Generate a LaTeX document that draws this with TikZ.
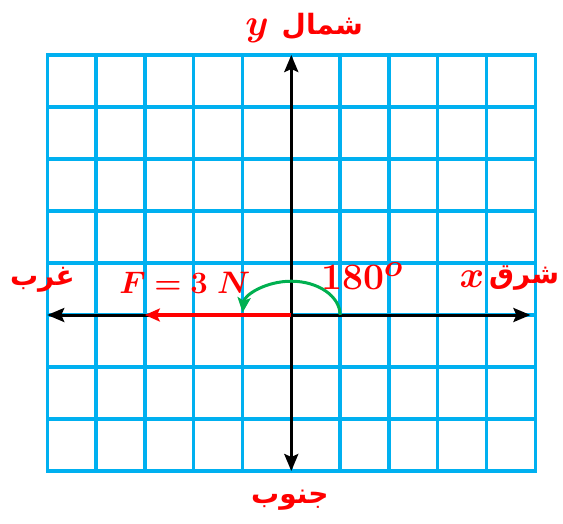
\documentclass[tikz,border=0pt]{standalone}
\usepackage{fontspec}
\usepackage{bm}
\usetikzlibrary{arrows.meta}
\newfontfamily\arabicfont[Script=Arabic]{DejaVu Sans}
\TeXXeTstate=1
\definecolor{gitterblau}{RGB}{0,176,240}
\definecolor{bogengruen}{RGB}{0,176,80}
\begin{document}
\begin{tikzpicture}[x=48.8pt,y=52pt,
  achse/.style={line width=3pt,{Stealth[length=17pt,width=14pt,inset=3pt]}-{Stealth[length=17pt,width=14pt,inset=3pt]}},
  beschr/.style={text=red,inner sep=0pt,font=\Huge,scale=1.25},
  grossbeschr/.style={beschr,scale=1.2},
  arab/.style={text=red,inner sep=0pt,font=\arabicfont\bfseries\fontsize{28}{32}\selectfont}]
\useasboundingbox (-0.969,-1) rectangle (10.568,9.058);
% Gitter 10 x 8
\foreach \i in {0,...,10}
  \draw[gitterblau,line width=3.4pt,line cap=rect] (\i,0) -- (\i,8);
\foreach \j in {0,...,8}
  \draw[gitterblau,line width=3.4pt,line cap=rect] (0,\j) -- (10,\j);
% Achsen
\coordinate (O) at (5,3);
\coordinate (W) at (0,3);
\coordinate (E) at (9.9,3);
\coordinate (N) at (5,8);
\coordinate (S) at (5,0);
\draw[achse] (W) -- (E);
\draw[achse] (S) -- (N);
% Kraft F = 3 N nach Westen
\coordinate (F) at (2,3);
\draw[red,line width=3.4pt,-{Stealth[length=15pt,width=13pt,inset=3pt]}] (O) -- (F);
% Winkel 180 Grad
\coordinate (A) at (6,3);
\draw[bogengruen,line width=3pt,-{Stealth[length=15pt,width=13pt,inset=3pt]}] (A) arc[start angle=0,end angle=176,x radius=1,y radius=0.65];
% Beschriftung
\node[grossbeschr] (ylab) at (4.3,8.47) {$\bm{y}$};
\node[arab,anchor=west] (nord) at (4.8,8.55) {\beginR شمال\endR};
\node[arab] (west) at (-0.1,3.67) {\beginR غرب\endR};
\node[beschr] (kraft) at (2.82,3.62) {$\bm{F = 3\ N}$};
\node[grossbeschr] (winkel) at (6.45,3.75) {$\bm{180^{o}}$};
\node[grossbeschr] (xlab) at (8.7,3.68) {$\bm{x}$};
\node[arab,anchor=west] (ost) at (9.05,3.72) {\beginR شرق\endR};
\node[arab] (sued) at (4.97,-0.56) {\beginR جنوب\endR};
\end{tikzpicture}
\end{document}
